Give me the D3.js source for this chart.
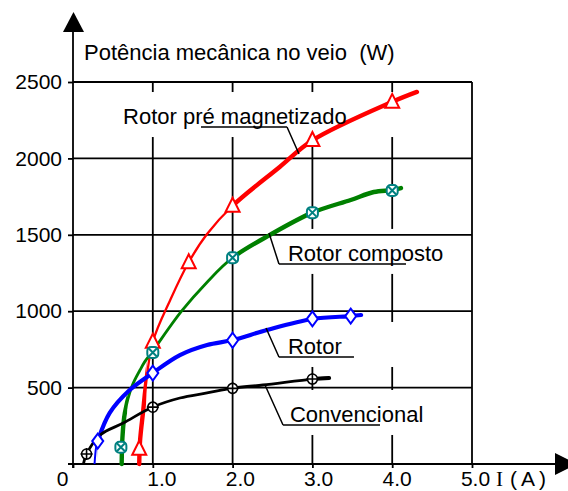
<!DOCTYPE html>
<html>
<head>
<meta charset="utf-8">
<script src="https://cdn.jsdelivr.net/npm/d3@7"></script>
<style>
  body { margin: 0; background: #fff; }
  svg { display: block; font-family: "Liberation Sans", Arial, sans-serif; }
</style>
</head>
<body>
<svg width="568" height="491"></svg>
<script>
// values: current I (A) vs shaft power (W)
var xTicks = [0, 1, 2, 3, 4, 5];
var xTickLabels = ["0", "1.0", "2.0", "3.0", "4.0", "5.0"];
var yTicks = [500, 1000, 1500, 2000, 2500];
var yTickLabels = ["500", "1000", "1500", "2000", "2500"];

var seriesNames = ["Rotor pré magnetizado", "Rotor composto", "Rotor", "Convencional"];

// drawn curves
var preI = [0.83, 0.84, 0.88, 0.91, 1.0, 1.22, 1.45, 1.68, 2.0, 2.59, 3.0, 4.0, 4.31];
var preP = [0, 150, 350, 500, 800, 1075, 1320, 1505, 1690, 1944, 2118, 2370, 2435];
var compI = [0.61, 0.62, 0.65, 0.74, 0.84, 0.9, 1.0, 1.36, 1.68, 2.0, 2.47, 3.0, 3.48, 3.77, 4.0, 4.11];
var compP = [0, 177, 334, 510, 615, 670, 740, 1000, 1190, 1350, 1500, 1645, 1728, 1780, 1793, 1806];
var rotI = [0.27, 0.29, 0.31, 0.46, 0.71, 1.0, 1.34, 1.68, 2.0, 2.43, 3.0, 3.48, 3.61];
var rotP = [0, 110, 150, 334, 484, 596, 713, 779, 811, 877, 949, 968, 975];
var convI = [0.13, 0.17, 0.34, 0.63, 1.0, 1.34, 1.68, 2.0, 2.38, 3.0, 3.21];
var convP = [0, 65, 190, 268, 373, 432, 465, 497, 517, 556, 563];

// measured points (markers)
var preMarkI = [0.83, 1.0, 1.45, 2.0, 3.0, 4.0];
var preMarkP = [100, 800, 1320, 1690, 2120, 2370];
var compMarkI = [0.6, 1.0, 2.0, 3.0, 4.0];
var compMarkP = [110, 730, 1350, 1645, 1790];
var rotMarkI = [0.31, 1.0, 2.0, 3.0, 3.48];
var rotMarkP = [150, 595, 810, 950, 968];
var convMarkI = [0.17, 1.0, 2.0, 3.0];
var convMarkP = [65, 372, 495, 556];

var svg = d3.select("svg");
var x = d3.scaleLinear().domain([0, 5]).range([73, 472]);
var y = d3.scaleLinear().domain([0, 2500]).range([464, 82]);

// vertical grid lines (1..4), broken later by the label boxes
svg.append("g").selectAll("line").data(xTicks.slice(1, 5)).enter().append("line")
  .attr("x1", d => x(d)).attr("x2", d => x(d))
  .attr("y1", y(2500)).attr("y2", y(0))
  .attr("stroke", "#000").attr("stroke-width", 1.8);

// label annotations (positions in data units)
var notes = [
  {tx: 0.627, ty: 2225, u0: 1.604, u1: 2.682, lx: 2.682, px: 2.832, py: 2029, b0: 0.5},
  {tx: 2.694, ty: 1329, u0: 2.581, u1: 4.173, lx: 2.581, px: 2.456, py: 1512, b0: 2.5},
  {tx: 2.694, ty: 720, u0: 2.581, u1: 3.521, lx: 2.581, px: 2.419, py: 890, b0: 2.5},
  {tx: 2.719, ty: 275, u0: 2.632, u1: 3.847, lx: 2.632, px: 2.406, py: 517, b0: 2.5}
];

// white boxes behind the labels
svg.append("g").selectAll("rect").data(notes).enter().append("rect")
  .attr("x", d => x(d.b0)).attr("width", d => x(4.85) - x(d.b0))
  .attr("y", d => y(d.ty) - 32).attr("height", 45)
  .attr("fill", "#fff");

// horizontal grid lines
svg.append("g").selectAll("line").data(yTicks).enter().append("line")
  .attr("x1", x(0)).attr("x2", x(5))
  .attr("y1", d => y(d)).attr("y2", d => y(d))
  .attr("stroke", "#000").attr("stroke-width", 1.8);

// right border
svg.append("line")
  .attr("x1", x(5)).attr("x2", x(5)).attr("y1", y(2500)).attr("y2", y(0))
  .attr("stroke", "#000").attr("stroke-width", 1.8);

// axes: ticks and labels
var yAxis = svg.append("g").attr("transform", "translate(" + x(0) + ",0)")
  .call(d3.axisLeft(y).tickValues(yTicks).tickSize(5).tickSizeOuter(0).tickPadding(6)
    .tickFormat((d, i) => yTickLabels[i]));
var xAxis = svg.append("g").attr("transform", "translate(0," + y(0) + ")")
  .call(d3.axisBottom(x).tickValues(xTicks).tickSize(4).tickSizeOuter(0).tickPadding(3)
    .tickFormat((d, i) => xTickLabels[i]));
[yAxis, xAxis].forEach(function(a) {
  a.select(".domain").remove();
  a.selectAll("line").attr("stroke", "#000").attr("stroke-width", 1.8);
  a.selectAll("text").attr("fill", "#000").style("font-size", "21px")
    .style("font-family", "'Liberation Sans', Arial, sans-serif");
});
xAxis.selectAll("text").attr("dx", d => d === 0 ? -11 : 10 - 1.4 * d);

// axis lines with arrows
svg.append("line").attr("x1", x(0)).attr("x2", x(0)).attr("y1", y(0) + 4).attr("y2", 30)
  .attr("stroke", "#000").attr("stroke-width", 1.8);
svg.append("polygon").attr("points", "63,32 84,32 73.5,12").attr("fill", "#000");
svg.append("line").attr("x1", x(0) - 5).attr("x2", 558).attr("y1", y(0)).attr("y2", y(0))
  .attr("stroke", "#000").attr("stroke-width", 1.8);
svg.append("polygon").attr("points", "555,453 555,475 577,464").attr("fill", "#000");

// titles
svg.append("text").attr("x", 84).attr("y", 60).style("font-size", "22px")
  .style("white-space", "pre").text("Potência mecânica no veio  (W)");
svg.append("text").attr("x", 496).attr("y", 486).style("font-size", "21px")
  .style("font-family", "'Liberation Serif', serif").text("I");
svg.append("text").attr("x", 510).attr("y", 486).style("font-size", "21px")
  .style("letter-spacing", "4px").text("(A)");

// curves
var curves = [
  {I: preI, P: preP, color: "#ff0000", w: 2.3, tw: 4.4, thick: [[0, 0.92], [1.97, 5]]},
  {I: compI, P: compP, color: "#008000", w: 2.8, tw: 4.4, thick: [[0, 0.68], [1.98, 5]]},
  {I: rotI, P: rotP, color: "#0000ff", w: 2, tw: 4.2, thick: [[0.31, 5]]},
  {I: convI, P: convP, color: "#000000", w: 2.8, tw: 4, thick: [[2.95, 5]]}
];
var line = d3.line().x(d => x(d[0])).y(d => y(d[1])).curve(d3.curveCatmullRom.alpha(0.5));
var defs = svg.append("defs");
curves.forEach(function(c, k) {
  var pts = d3.zip(c.I, c.P);
  svg.append("path").attr("d", line(pts)).attr("fill", "none")
    .attr("stroke", c.color).attr("stroke-width", c.w);
  c.thick.forEach(function(r, j) {
    var id = "clip" + k + "_" + j;
    defs.append("clipPath").attr("id", id).append("rect")
      .attr("x", x(r[0])).attr("width", x(r[1]) - x(r[0])).attr("y", 0).attr("height", 491);
    svg.append("path").attr("d", line(pts)).attr("fill", "none")
      .attr("stroke", c.color).attr("stroke-width", c.tw)
      .attr("stroke-linecap", "round").attr("clip-path", "url(#" + id + ")");
  });
});

// markers
var mk = svg.append("g").attr("fill", "#fff").attr("stroke-width", 2);
mk.selectAll(".tri").data(d3.zip(preMarkI, preMarkP)).enter().append("path")
  .attr("transform", d => "translate(" + x(d[0]) + "," + y(d[1]) + ")")
  .attr("d", "M0,-8L7,6L-7,6Z").attr("stroke", "#ff0000");
var cm = mk.selectAll(".cmp").data(d3.zip(compMarkI, compMarkP)).enter().append("g")
  .attr("transform", d => "translate(" + x(d[0]) + "," + y(d[1]) + ")")
  .attr("stroke", "#008080");
cm.append("rect").attr("x", -5.5).attr("y", -5.5).attr("width", 11).attr("height", 11).attr("rx", 4);
cm.append("path").attr("d", "M-4,-4L4,4M4,-4L-4,4").attr("fill", "none");
mk.selectAll(".dia").data(d3.zip(rotMarkI, rotMarkP)).enter().append("path")
  .attr("transform", d => "translate(" + x(d[0]) + "," + y(d[1]) + ")")
  .attr("d", "M0,-7.5L5.5,0L0,7.5L-5.5,0Z").attr("stroke", "#0000ff");
var vm = mk.selectAll(".cnv").data(d3.zip(convMarkI, convMarkP)).enter().append("g")
  .attr("transform", d => "translate(" + x(d[0]) + "," + y(d[1]) + ")")
  .attr("stroke", "#000").attr("stroke-width", 1.6);
vm.append("circle").attr("r", 5);
vm.append("path").attr("d", "M-6,0H6M0,-6V6").attr("fill", "none");

// labels with underline and leader
var lab = svg.append("g").selectAll("g").data(notes).enter().append("g");
lab.append("text").attr("x", d => x(d.tx)).attr("y", d => y(d.ty))
  .style("font-size", "22px").text((d, i) => seriesNames[i]);
lab.append("path")
  .attr("d", d => "M" + x(d.u0) + "," + (y(d.ty) + 3) + "H" + x(d.u1)
    + "M" + x(d.lx) + "," + (y(d.ty) + 3) + "L" + x(d.px) + "," + y(d.py))
  .attr("fill", "none").attr("stroke", "#000").attr("stroke-width", 1.5);
</script>
</body>
</html>
